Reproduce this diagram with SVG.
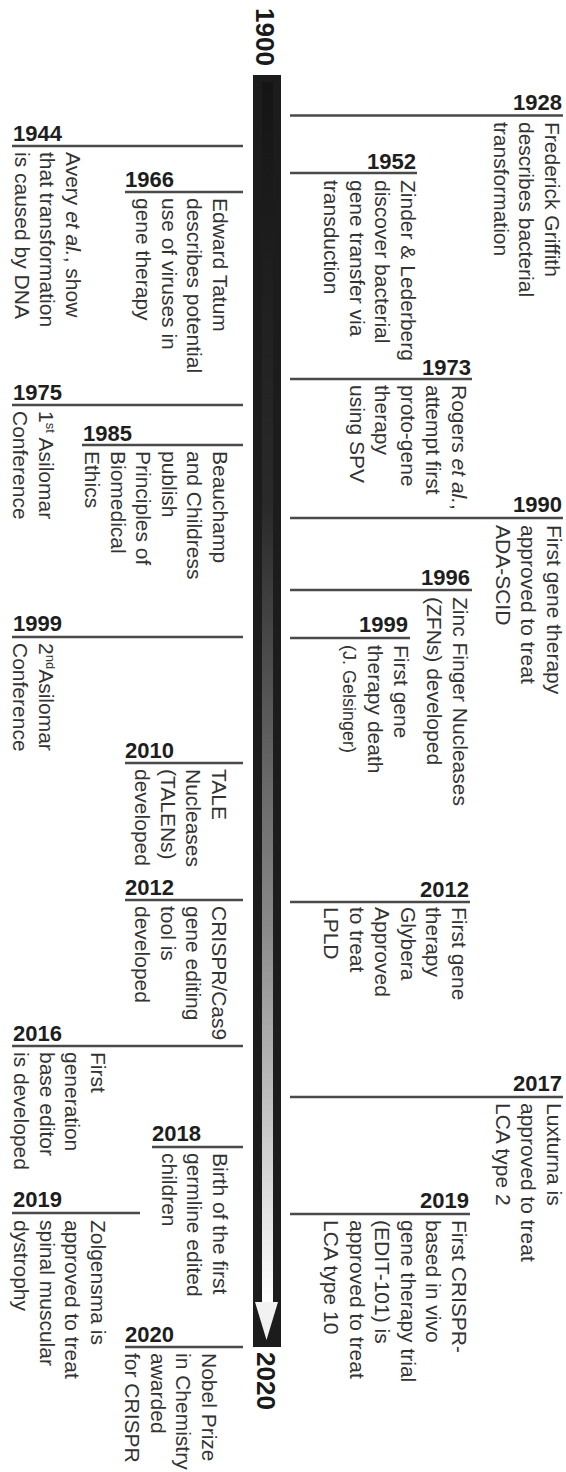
<svg xmlns="http://www.w3.org/2000/svg" width="566" height="1472" viewBox="0 0 566 1472">
<style>
.yr{font-family:"Liberation Sans",Arial,sans-serif;font-weight:bold;font-size:22px;fill:#1e1e1e}
.yl{font-family:"Liberation Sans",Arial,sans-serif;font-weight:bold;font-size:26px;fill:#1a1a1a}
.tx{font-family:"Liberation Sans",Arial,sans-serif;font-size:21px;fill:#333}
.r{text-anchor:end}
.ld{stroke:#4a4a4a;stroke-width:2.5;fill:none}
.it{font-style:italic}
</style>
<defs>
<linearGradient id="shaft" x1="0" y1="0" x2="0" y2="1">
<stop offset="0" stop-color="#151515"/>
<stop offset="0.35" stop-color="#2a2a2a"/>
<stop offset="0.7" stop-color="#8c8c8c"/>
<stop offset="1" stop-color="#ffffff"/>
</linearGradient>
</defs>
<rect width="566" height="1472" fill="#fff"/>
<g id="timeline">
<rect x="253" y="75" width="28" height="1272" fill="#1c1c1c"/>
<rect x="262" y="82" width="11" height="1221" fill="url(#shaft)"/>
<polygon points="255,1302 278,1302 266.5,1340" fill="#f2f2f2"/>
<text class="yl" transform="translate(256,8) rotate(90)">1900</text>
<text class="yl" transform="translate(257,1352) rotate(90)">2020</text>
</g>
<g id="connectors">
<line class="ld" x1="290" y1="115.5" x2="563" y2="115.5"/>
<line class="ld" x1="290" y1="173" x2="417" y2="173"/>
<line class="ld" x1="290" y1="379" x2="472" y2="379"/>
<line class="ld" x1="290" y1="518" x2="563" y2="518"/>
<line class="ld" x1="290" y1="590" x2="472" y2="590"/>
<line class="ld" x1="290" y1="638" x2="410" y2="638"/>
<line class="ld" x1="290" y1="902" x2="470" y2="902"/>
<line class="ld" x1="290" y1="1097" x2="563" y2="1097"/>
<line class="ld" x1="290" y1="1214" x2="470" y2="1214"/>
<line class="ld" x1="12" y1="146" x2="243" y2="146"/>
<line class="ld" x1="125" y1="192" x2="243" y2="192"/>
<line class="ld" x1="12" y1="405" x2="243" y2="405"/>
<line class="ld" x1="82" y1="445" x2="243" y2="445"/>
<line class="ld" x1="12" y1="637" x2="243" y2="637"/>
<line class="ld" x1="125" y1="763" x2="243" y2="763"/>
<line class="ld" x1="125" y1="900" x2="243" y2="900"/>
<line class="ld" x1="12" y1="1046" x2="243" y2="1046"/>
<line class="ld" x1="152" y1="1147" x2="243" y2="1147"/>
<line class="ld" x1="12" y1="1213" x2="140" y2="1213"/>
<line class="ld" x1="125" y1="1347" x2="243" y2="1347"/>
</g>
<g id="e1928">
<text class="yr r" x="562" y="110">1928</text>
<text class="tx" transform="translate(545,122) rotate(90)"><tspan x="0" y="0">Frederick Griffith</tspan><tspan x="0" dy="25.6">describes bacterial</tspan><tspan x="0" dy="25.6">transformation</tspan></text>
</g>
<g id="e1952">
<text class="yr r" x="416" y="169">1952</text>
<text class="tx" transform="translate(401,180) rotate(90)"><tspan x="0" y="0">Zinder &amp; Lederberg</tspan><tspan x="0" dy="25.6">discover bacterial</tspan><tspan x="0" dy="25.6">gene transfer via</tspan><tspan x="0" dy="25.6">transduction</tspan></text>
</g>
<g id="e1973">
<text class="yr r" x="471" y="375">1973</text>
<text class="tx" transform="translate(452,385) rotate(90)"><tspan x="0" y="0">Rogers <tspan class="it">et al.</tspan>,</tspan><tspan x="0" dy="25.6">attempt first</tspan><tspan x="0" dy="25.6">proto-gene</tspan><tspan x="0" dy="25.6">therapy</tspan><tspan x="0" dy="25.6">using SPV</tspan></text>
</g>
<g id="e1990">
<text class="yr r" x="562" y="512">1990</text>
<text class="tx" transform="translate(547,525) rotate(90)"><tspan x="0" y="0">First gene therapy</tspan><tspan x="0" dy="25.6">approved to treat</tspan><tspan x="0" dy="25.6">ADA-SCID</tspan></text>
</g>
<g id="e1996">
<text class="yr r" x="470" y="585">1996</text>
<text class="tx" transform="translate(453,597) rotate(90)"><tspan x="0" y="0">Zinc Finger Nucleases</tspan><tspan x="0" dy="25.6">(ZFNs) developed</tspan></text>
</g>
<g id="e1999r">
<text class="yr r" x="408" y="632">1999</text>
<text class="tx" transform="translate(394,645) rotate(90)"><tspan x="0" y="0">First gene</tspan><tspan x="0" dy="25.6">therapy death</tspan><tspan x="0" dy="25" font-size="18">(J. Gelsinger)</tspan></text>
</g>
<g id="e2012r">
<text class="yr r" x="469" y="897">2012</text>
<text class="tx" transform="translate(452,907) rotate(90)"><tspan x="0" y="0">First gene</tspan><tspan x="0" dy="25.6">therapy</tspan><tspan x="0" dy="25.6">Glybera</tspan><tspan x="0" dy="25.6">Approved</tspan><tspan x="0" dy="25.6">to treat</tspan><tspan x="0" dy="25.6">LPLD</tspan></text>
</g>
<g id="e2017">
<text class="yr r" x="562" y="1091">2017</text>
<text class="tx" transform="translate(547,1103) rotate(90)"><tspan x="0" y="0">Luxturna is</tspan><tspan x="0" dy="25.6">approved to treat</tspan><tspan x="0" dy="25.6">LCA type 2</tspan></text>
</g>
<g id="e2019r">
<text class="yr r" x="469" y="1208">2019</text>
<text class="tx" transform="translate(452,1220) rotate(90)"><tspan x="0" y="0">First CRISPR-</tspan><tspan x="0" dy="25.6">based in vivo</tspan><tspan x="0" dy="25.6">gene therapy trial</tspan><tspan x="0" dy="25.6">(EDIT-101) is</tspan><tspan x="0" dy="25.6">approved to treat</tspan><tspan x="0" dy="25.6">LCA type 10</tspan></text>
</g>
<g id="e1944">
<text class="yr" x="13" y="141">1944</text>
<text class="tx" transform="translate(66,152) rotate(90)"><tspan x="0" y="0">Avery <tspan class="it">et al.</tspan>, show</tspan><tspan x="0" dy="25.6">that transformation</tspan><tspan x="0" dy="25.6">is caused by DNA</tspan></text>
</g>
<g id="e1966">
<text class="yr" x="125" y="187">1966</text>
<text class="tx" transform="translate(213,198) rotate(90)"><tspan x="0" y="0">Edward Tatum</tspan><tspan x="0" dy="25.6">describes potential</tspan><tspan x="0" dy="25.6">use of viruses in</tspan><tspan x="0" dy="25.6">gene therapy</tspan></text>
</g>
<g id="e1975">
<text class="yr" x="13" y="400">1975</text>
<text class="tx" transform="translate(39,411) rotate(90)"><tspan x="0" y="0">1<tspan dy="-7" font-size="13">st</tspan><tspan dy="7"> Asilomar</tspan></tspan><tspan x="0" dy="25.6">Conference</tspan></text>
</g>
<g id="e1985">
<text class="yr" x="83" y="441">1985</text>
<text class="tx" transform="translate(213,451) rotate(90)"><tspan x="0" y="0">Beauchamp</tspan><tspan x="0" dy="25.6">and Childress</tspan><tspan x="0" dy="25.6">publish</tspan><tspan x="0" dy="25.6">Principles of</tspan><tspan x="0" dy="25.6">Biomedical</tspan><tspan x="0" dy="25.6">Ethics</tspan></text>
</g>
<g id="e1999l">
<text class="yr" x="13" y="631">1999</text>
<text class="tx" transform="translate(39,643) rotate(90)"><tspan x="0" y="0">2<tspan dy="-7" font-size="13">nd</tspan><tspan dy="7">Asilomar</tspan></tspan><tspan x="0" dy="25.6">Conference</tspan></text>
</g>
<g id="e2010">
<text class="yr" x="125" y="758">2010</text>
<text class="tx" transform="translate(212,769) rotate(90)"><tspan x="0" y="0">TALE</tspan><tspan x="0" dy="25.6">Nucleases</tspan><tspan x="0" dy="25.6">(TALENs)</tspan><tspan x="0" dy="25.6">developed</tspan></text>
</g>
<g id="e2012l">
<text class="yr" x="125" y="895">2012</text>
<text class="tx" transform="translate(212,906) rotate(90)"><tspan x="0" y="0">CRISPR/Cas9</tspan><tspan x="0" dy="25.6">gene editing</tspan><tspan x="0" dy="25.6">tool is</tspan><tspan x="0" dy="25.6">developed</tspan></text>
</g>
<g id="e2016">
<text class="yr" x="13" y="1041">2016</text>
<text class="tx" transform="translate(91,1052) rotate(90)"><tspan x="0" y="0">First</tspan><tspan x="0" dy="25.6">generation</tspan><tspan x="0" dy="25.6">base editor</tspan><tspan x="0" dy="25.6">is developed</tspan></text>
</g>
<g id="e2018">
<text class="yr" x="152" y="1141">2018</text>
<text class="tx" transform="translate(213,1153) rotate(90)"><tspan x="0" y="0">Birth of the first</tspan><tspan x="0" dy="25.6">germline edited</tspan><tspan x="0" dy="25.6">children</tspan></text>
</g>
<g id="e2019l">
<text class="yr" x="13" y="1207">2019</text>
<text class="tx" transform="translate(91,1220) rotate(90)"><tspan x="0" y="0">Zolgensma is</tspan><tspan x="0" dy="25.6">approved to treat</tspan><tspan x="0" dy="25.6">spinal muscular</tspan><tspan x="0" dy="25.6">dystrophy</tspan></text>
</g>
<g id="e2020">
<text class="yr" x="125" y="1342">2020</text>
<text class="tx" transform="translate(202,1353) rotate(90)"><tspan x="0" y="0">Nobel Prize</tspan><tspan x="0" dy="25.6">in Chemistry</tspan><tspan x="0" dy="25.6">awarded</tspan><tspan x="0" dy="25.6">for CRISPR</tspan></text>
</g>
</svg>
